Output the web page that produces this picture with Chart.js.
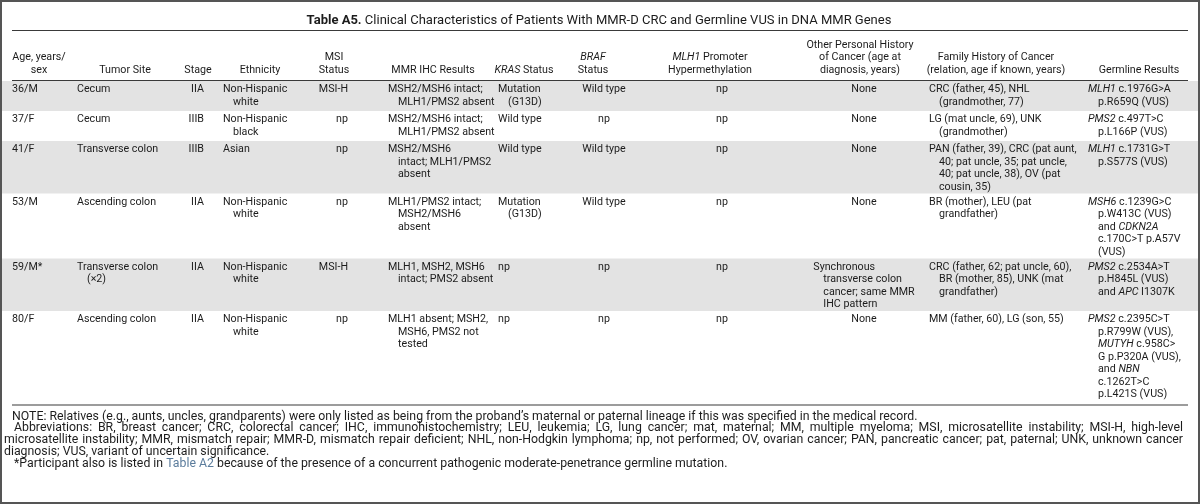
<!DOCTYPE html>
<html>
<head>
<meta charset="utf-8">
<script src="https://cdn.jsdelivr.net/npm/chart.js/dist/chart.umd.min.js"></script>
<style>
    html, body { margin: 0; padding: 0; background: #fff; }
    canvas { display: block; }
</style>
</head>
<body>
<canvas id="tablaA5" width="1200" height="504"></canvas>
<script>
    // Datos de la tabla ( _x_ = cursiva, |x| = enlace )
    const tituloNegrita = 'Table A5.';
    const titulo = 'Clinical Characteristics of Patients With MMR-D CRC and Germline VUS in DNA MMR Genes';

    const encabezados = [
        'Age, years/\nsex', 'Tumor Site', 'Stage', 'Ethnicity', 'MSI\nStatus', 'MMR IHC Results',
        '_KRAS_ Status', '_BRAF_\nStatus', '_MLH1_ Promoter\nHypermethylation',
        'Other Personal History\nof Cancer (age at\ndiagnosis, years)',
        'Family History of Cancer\n(relation, age if known, years)', 'Germline Results'
    ];

    const edadSexo = ['36/M', '37/F', '41/F', '53/M', '59/M*', '80/F'];
    const sitioTumor = ['Cecum', 'Cecum', 'Transverse colon', 'Ascending colon', 'Transverse colon\n(×2)', 'Ascending colon'];
    const estadio = ['IIA', 'IIIB', 'IIIB', 'IIA', 'IIA', 'IIA'];
    const etnia = ['Non-Hispanic\nwhite', 'Non-Hispanic\nblack', 'Asian', 'Non-Hispanic\nwhite', 'Non-Hispanic\nwhite', 'Non-Hispanic\nwhite'];
    const estadoMSI = ['MSI-H', 'np', 'np', 'np', 'MSI-H', 'np'];
    const ihcMMR = [
        'MSH2/MSH6 intact;\nMLH1/PMS2 absent',
        'MSH2/MSH6 intact;\nMLH1/PMS2 absent',
        'MSH2/MSH6\nintact; MLH1/PMS2\nabsent',
        'MLH1/PMS2 intact;\nMSH2/MSH6\nabsent',
        'MLH1, MSH2, MSH6\nintact; PMS2 absent',
        'MLH1 absent; MSH2,\nMSH6, PMS2 not\ntested'
    ];
    const estadoKRAS = ['Mutation\n(G13D)', 'Wild type', 'Wild type', 'Mutation\n(G13D)', 'np', 'np'];
    const estadoBRAF = ['Wild type', 'np', 'Wild type', 'Wild type', 'np', 'np'];
    const promotorMLH1 = ['np', 'np', 'np', 'np', 'np', 'np'];
    const otroCancer = ['None', 'None', 'None', 'None', 'Synchronous\ntransverse colon\ncancer; same MMR\nIHC pattern', 'None'];
    const historiaFamiliar = [
        'CRC (father, 45), NHL\n(grandmother, 77)',
        'LG (mat uncle, 69), UNK\n(grandmother)',
        'PAN (father, 39), CRC (pat aunt,\n40; pat uncle, 35; pat uncle,\n40; pat uncle, 38), OV (pat\ncousin, 35)',
        'BR (mother), LEU (pat\ngrandfather)',
        'CRC (father, 62; pat uncle, 60),\nBR (mother, 85), UNK (mat\ngrandfather)',
        'MM (father, 60), LG (son, 55)'
    ];
    const germinal = [
        '_MLH1_ c.1976G>A\np.R659Q (VUS)',
        '_PMS2_ c.497T>C\np.L166P (VUS)',
        '_MLH1_ c.1731G>T\np.S577S (VUS)',
        '_MSH6_ c.1239G>C\np.W413C (VUS)\nand _CDKN2A_\nc.170C>T p.A57V\n(VUS)',
        '_PMS2_ c.2534A>T\np.H845L (VUS)\nand _APC_ I1307K',
        '_PMS2_ c.2395C>T\np.R799W (VUS),\n_MUTYH_ c.958C>\nG p.P320A (VUS),\nand _NBN_\nc.1262T>C\np.L421S (VUS)'
    ];

    const notas = [
        'NOTE: Relatives (e.g., aunts, uncles, grandparents) were only listed as being from the proband’s maternal or paternal lineage if this was specified in the medical record.',
        'Abbreviations: BR, breast cancer; CRC, colorectal cancer; IHC, immunohistochemistry; LEU, leukemia; LG, lung cancer; mat, maternal; MM, multiple myeloma; MSI, microsatellite instability; MSI-H, high-level',
        'microsatellite instability; MMR, mismatch repair; MMR-D, mismatch repair deficient; NHL, non-Hodgkin lymphoma; np, not performed; OV, ovarian cancer; PAN, pancreatic cancer; pat, paternal; UNK, unknown cancer',
        'diagnosis; VUS, variant of uncertain significance.',
        '*Participant also is listed in |Table A2| because of the presence of a concurrent pathogenic moderate-penetrance germline mutation.'
    ];

    const columnas = [edadSexo, sitioTumor, estadio, etnia, estadoMSI, ihcMMR, estadoKRAS, estadoBRAF, promotorMLH1, otroCancer, historiaFamiliar, germinal];

    // Maquetación (posiciones en unidades de las escalas)
    const colLayout = [
        { h: 39, x: 12, al: 'left' },
        { h: 125, x: 77, al: 'left' },
        { h: 198, x: 204, al: 'right' },
        { h: 260, x: 223, al: 'left' },
        { h: 334, x: 348, al: 'right' },
        { h: 433, x: 388, al: 'left' },
        { h: 524, x: 498, al: 'left' },
        { h: 593, x: 604, al: 'block' },
        { h: 710, x: 722, al: 'block' },
        { h: 860, x: 864, al: 'block' },
        { h: 996, x: 929, al: 'left' },
        { h: 1139, x: 1088, al: 'left' }
    ];
    const FUENTE = 'Roboto, "Liberation Sans", Arial, sans-serif';
    const TAM = 10.7, TAM_TIT = 13, TAM_NOTA = 12.3, INTER = 12.5, SANGRIA = 10;
    const colorTexto = '#1c1c1c', colorLinea = '#3a3a3a', colorSombra = '#e3e3e3', colorEnlace = '#5b7c9c';

    function partes(str) {
        const out = [];
        let it = false, ln = false, buf = '';
        for (const ch of str) {
            if (ch === '_' || ch === '|') {
                if (buf) out.push({ t: buf, it, ln });
                buf = '';
                if (ch === '_') it = !it; else ln = !ln;
            } else buf += ch;
        }
        if (buf) out.push({ t: buf, it, ln });
        return out;
    }
    function fuente(it, bold, size) {
        return (it ? 'italic ' : '') + (bold ? 'bold ' : '') + size + 'px ' + FUENTE;
    }
    function ancho(ctx, str, size) {
        let w = 0;
        for (const p of partes(str)) { ctx.font = fuente(p.it, false, size); w += ctx.measureText(p.t).width; }
        return w;
    }
    function escribir(ctx, str, x, y, size) {
        for (const p of partes(str)) {
            ctx.font = fuente(p.it, false, size);
            ctx.fillStyle = p.ln ? colorEnlace : colorTexto;
            ctx.fillText(p.t, x, y);
            x += ctx.measureText(p.t).width;
        }
    }

    const dibujarTabla = {
        id: 'dibujarTabla',
        beforeDraw(chart) {
            const ctx = chart.ctx, sx = chart.scales.x, sy = chart.scales.y;
            const px = v => sx.getPixelForValue(v), py = v => sy.getPixelForValue(v);
            ctx.save();
            ctx.fillStyle = '#fff';
            ctx.fillRect(0, 0, chart.width, chart.height);
            ctx.textBaseline = 'middle';
            ctx.textAlign = 'left';

            const linea = (y, w) => {
                ctx.strokeStyle = colorLinea; ctx.lineWidth = w;
                ctx.beginPath(); ctx.moveTo(px(12), py(y)); ctx.lineTo(px(1188), py(y)); ctx.stroke();
            };

            // Título
            ctx.font = fuente(false, true, TAM_TIT);
            const wB = ctx.measureText(tituloNegrita + ' ').width;
            ctx.font = fuente(false, false, TAM_TIT);
            const wT = ctx.measureText(titulo).width;
            let tx = px(599) - (wB + wT) / 2;
            ctx.fillStyle = colorTexto;
            ctx.font = fuente(false, true, TAM_TIT);
            ctx.fillText(tituloNegrita + ' ', tx, py(20.5));
            ctx.font = fuente(false, false, TAM_TIT);
            ctx.fillText(titulo, tx + wB, py(20.5));
            linea(30.5, 1);

            // Encabezados
            encabezados.forEach((h, c) => {
                const lines = h.split('\n');
                lines.forEach((l, i) => {
                    const y = 70 - (lines.length - 1 - i) * INTER;
                    const w = ancho(ctx, l, TAM);
                    escribir(ctx, l, px(colLayout[c].h) - w / 2, py(y), TAM);
                });
            });
            linea(80.5, 1.2);

            // Filas
            let top = 81;
            for (let r = 0; r < edadSexo.length; r++) {
                const celdas = columnas.map(col => col[r].split('\n'));
                const n = Math.max(...celdas.map(c => c.length));
                const alto = n * INTER + (n < 3 ? 5 : 2.5);
                if (r % 2 === 0) {
                    ctx.fillStyle = colorSombra;
                    ctx.fillRect(px(2), py(top), px(1198) - px(2), py(top + alto) - py(top));
                }
                celdas.forEach((lines, c) => {
                    const L = colLayout[c];
                    let blockLeft = L.x;
                    if (L.al === 'block') {
                        const mw = Math.max(...lines.map((l, i) => ancho(ctx, l, TAM) + (i ? SANGRIA : 0)));
                        blockLeft = L.x - mw / 2;
                    }
                    lines.forEach((l, i) => {
                        const y = py(top + 8.5 + i * INTER);
                        const w = ancho(ctx, l, TAM);
                        let x;
                        if (L.al === 'right') x = px(L.x) - w;
                        else x = px(blockLeft + (i ? SANGRIA : 0));
                        escribir(ctx, l, x, y, TAM);
                    });
                });
                top += alto;
            }
            linea(405, 1.2);

            // Notas
            const notaX = [12, 14, 4, 4, 14], justificar = [false, true, true, false, false];
            notas.forEach((t, i) => {
                const y = py(416.5 + i * 11.8);
                if (justificar[i]) {
                    const pal = t.split(' ');
                    let size = TAM_NOTA;
                    ctx.font = fuente(false, false, size);
                    let ws = pal.map(p => ctx.measureText(p).width);
                    let libre = px(1183) - px(notaX[i]) - ws.reduce((a, b) => a + b, 0);
                    const sp = ctx.measureText(' ').width;
                    if (libre / (pal.length - 1) < sp * 0.8) {
                        size = size * (px(1183) - px(notaX[i])) / (ws.reduce((a, b) => a + b, 0) + sp * (pal.length - 1));
                        ctx.font = fuente(false, false, size);
                        ws = pal.map(p => ctx.measureText(p).width);
                        libre = px(1183) - px(notaX[i]) - ws.reduce((a, b) => a + b, 0);
                    }
                    const gap = libre / (pal.length - 1);
                    let x = px(notaX[i]);
                    ctx.fillStyle = colorTexto;
                    pal.forEach((p, k) => { ctx.fillText(p, x, y); x += ws[k] + gap; });
                } else {
                    escribir(ctx, t, px(notaX[i]), y, TAM_NOTA);
                }
            });

            // Marco
            ctx.strokeStyle = '#555';
            ctx.lineWidth = 2;
            ctx.strokeRect(px(1), py(1), px(1199) - px(1), py(503) - py(1));
            ctx.restore();
        }
    };

    new Chart(document.getElementById('tablaA5'), {
        type: 'scatter',
        data: { datasets: [] },
        options: {
            responsive: false,
            animation: false,
            layout: { padding: 0 },
            plugins: { legend: { display: false }, tooltip: { enabled: false } },
            scales: {
                x: { type: 'linear', min: 0, max: 1200, display: false },
                y: { type: 'linear', min: 0, max: 504, reverse: true, display: false }
            }
        },
        plugins: [dibujarTabla]
    });
</script>
</body>
</html>
